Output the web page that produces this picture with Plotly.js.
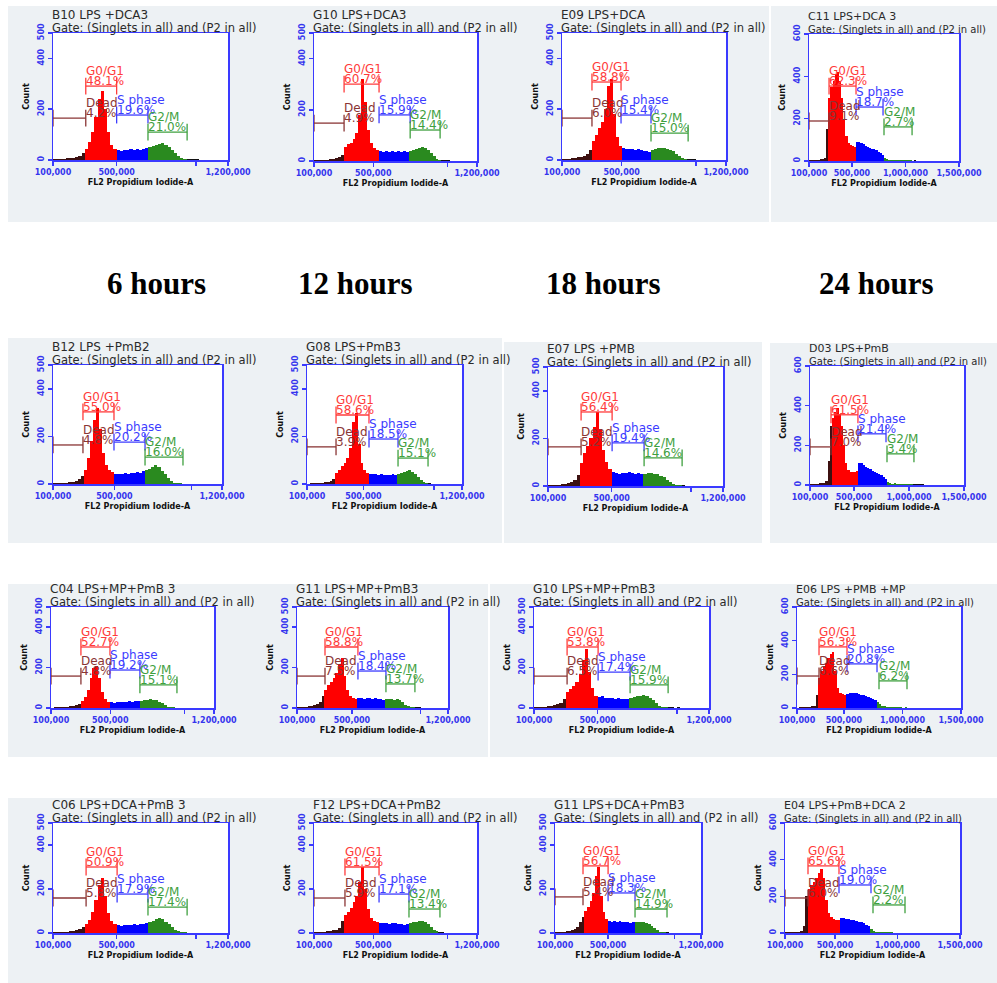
<!DOCTYPE html>
<html><head><meta charset="utf-8">
<script src="https://cdn.plot.ly/plotly-3.0.1.min.js"></script>
<style>body{margin:0;background:#fff}#chart{width:997px;height:983px}</style>
</head><body><div id="chart"></div>
<script>
// ---------------- DATA ----------------
const binStart = 110000;   // centre of first histogram channel
const binStep = 20000;     // channel width
const hourLabels = ['6 hours', '12 hours', '18 hours', '24 hours'];
const panelTitles = ['B10 LPS +DCA3','G10 LPS+DCA3','E09 LPS+DCA','C11 LPS+DCA 3',
  'B12 LPS +PmB2','G08 LPS+PmB3','E07 LPS +PMB','D03 LPS+PmB',
  'C04 LPS+MP+PmB 3','G11 LPS+MP+PmB3','G10 LPS+MP+PmB3','E06 LPS +PMB +MP',
  'C06 LPS+DCA+PmB 3','F12 LPS+DCA+PmB2','G11 LPS+DCA+PmB3','E04 LPS+PmB+DCA 2'];
const gateText = 'Gate: (Singlets in all) and (P2 in all)';
const xTitle = 'FL2 Propidium Iodide-A';
const yTitle = 'Count';
const xMax = [1200000,1200000,1200000,1500000, 1200000,1200000,1200000,1500000,
  1200000,1200000,1200000,1500000, 1200000,1200000,1200000,1500000];
const yMax = [500,500,500,600, 500,500,500,600, 500,500,500,600, 500,500,500,600];
const xTicks12 = [100000, 500000, 1000000, 1200000];
const xTickText12 = ['100,000', '500,000', '', '1,200,000'];
const xTicks15 = [100000, 500000, 1000000, 1500000];
const xTickText15 = ['100,000', '500,000', '1,000,000', '1,500,000'];
const yTicks500 = [0, 200, 400, 500];
const yTicks600 = [0, 200, 400, 600];

// gate boundaries (FL2-A) and gate bar heights (count)
const deadEnd = [306000,303000,301000,287000, 295000,306000,308000,291000, 302000,304000,308000,288000, 308000,309000,311000,284000];
const g1End   = [500000,539000,496000,539000, 497000,540000,503000,536000, 498000,544000,503000,527000, 503000,539000,500000,532000];
const sEnd    = [697000,749000,697000,791000, 699000,746000,704000,791000, 700000,748000,704000,783000, 697000,741000,703000,788000];
const g2Start = [697000,749000,697000,800000, 699000,746000,704000,800000, 700000,748000,704000,800000, 697000,741000,703000,804000];
const g2End   = [943000,951000,946000,1062000, 946000,959000,943000,1045000, 950000,959000,943000,1039000, 943000,950000,944000,1060000];
const deadY = [165,148,165,189, 164,156,164,192, 158,158,158,190, 159,159,164,191];
const g1Y   = [291,300,307,354, 303,290,311,354, 302,302,302,363, 300,300,305,366];
const sY    = [177,180,177,255, 176,189,181,258, 188,183,178,262, 177,177,182,262];
const g2Y   = [110,121,106,161, 113,109,118,157, 114,119,114,161, 118,109,109,153];
const deadPct = ['4.2%','4.9%','6.0%','9.1%','4.8%','3.9%','5.2%','7.0%','4.8%','7.5%','6.5%','6.6%','5.8%','5.9%','5.4%','6.0%'];
const g1Pct = ['48.1%','60.7%','58.8%','62.3%','55.0%','58.6%','56.4%','61.5%','52.7%','58.8%','53.8%','56.3%','50.9%','61.5%','56.7%','65.6%'];
const sPct  = ['19.6%','15.9%','15.4%','18.7%','20.2%','18.5%','19.4%','21.4%','19.2%','18.4%','17.4%','20.8%','17.9%','17.1%','18.3%','19.0%'];
const g2Pct = ['21.0%','14.4%','15.0%','2.7%','16.0%','15.1%','14.6%','3.4%','15.1%','13.7%','15.9%','6.2%','17.4%','13.4%','14.9%','2.2%'];
const gateNames = ['Dead', 'G0/G1', 'S phase', 'G2/M'];

// histogram counts per channel (from 110,000 in steps of 20,000)
const cB10 = [3,4,3,5,6,7,8,10,15,28, 45,70,110,170,240,270,200,110,60,42, 38,36,40,38,42,40,44,40,45,48, 52,55,58,62,66,58,50,40,28,15, 8,5,3,3,2,2,1,1,1,1, 0,1,0,0,0];
const cG10 = [2,3,3,4,5,6,8,10,14,25, 55,65,72,85,110,180,320,230,120,70, 50,42,38,36,40,35,38,36,40,34, 38,36,40,42,48,52,55,50,42,30, 18,8,4,3,2,2,1,1,1,1, 1,0,1,0,0];
const cE09 = [3,4,5,6,8,10,12,16,22,40, 75,100,125,150,200,290,320,180,90,55, 48,45,42,44,40,42,38,36,34,32, 40,44,46,48,46,44,40,34,24,14, 7,4,3,2,2,1,1,1,1,0, 1,0,0,0,0];
const cC11 = [4,5,5,6,7,8,10,15,150,300, 350,380,410,420,380,300,200,120,85,75, 70,68,88,90,85,80,72,68,62,58, 55,50,44,36,28,15,10,7,6,5, 5,4,4,3,4,3,4,3,2,3, 2,2,1,2,1,1,1,0,1,1, 0,0,1,0,0,0,1,0,0,0];
const cB12 = [3,4,4,5,6,8,10,12,20,35, 60,110,180,270,320,230,130,80,60,52, 44,40,42,46,44,48,46,50,48,54, 58,64,72,78,70,56,40,24,12,6, 4,3,2,2,2,1,1,1,1,1, 0,1,0,0,0];
const cG08 = [2,3,3,4,5,6,8,10,14,22, 45,60,75,90,110,150,260,300,170,90, 60,48,44,40,42,38,40,36,38,36, 40,38,44,48,52,56,58,52,42,30, 16,8,4,3,2,2,1,1,1,1, 0,1,0,0,0];
const cE07 = [3,4,4,5,7,9,12,16,25,45, 95,140,170,200,250,310,240,150,100,70, 60,55,52,56,54,58,55,52,56,52, 50,54,56,52,50,44,36,26,16,8, 5,3,3,2,2,2,1,1,1,1, 1,0,1,0,0];
const cD03 = [4,5,6,6,8,9,12,20,120,300, 340,370,390,360,300,200,110,75,68,66, 64,70,110,112,100,92,85,80,72,68, 62,56,48,38,28,14,9,7,8,6, 6,5,6,5,5,4,4,6,5,6, 4,3,2,2,1,1,1,1,0,1, 0,0,0,0,0,0,0,0,0,0];
const cC04 = [2,3,3,4,5,6,8,10,14,22, 35,55,90,150,200,210,150,80,45,32, 28,26,30,28,32,30,34,32,35,34, 36,38,40,44,42,38,32,24,14,7, 4,3,2,2,2,1,1,1,1,0, 1,0,0,0,0];
const cG11m = [3,4,5,6,8,10,14,18,30,60, 90,115,130,150,175,220,250,160,90,60, 50,46,48,52,46,50,48,46,50,44, 46,42,44,46,44,42,44,38,28,16, 8,5,4,3,3,2,2,1,1,1, 1,0,1,0,0];
const cG10m = [3,4,5,6,8,10,14,18,25,45, 80,95,110,130,170,240,290,180,100,60, 55,60,50,48,50,46,48,44,46,44, 50,54,58,60,62,58,50,38,24,12, 6,4,3,3,2,3,2,2,1,2, 1,1,2,1,0];
const cE06 = [3,4,5,6,7,8,10,14,80,180, 220,250,270,300,320,330,220,120,90,85, 80,86,90,92,88,90,84,80,76,72, 66,60,56,48,35,22,14,10,8,6, 5,5,4,4,4,3,4,3,3,2, 3,2,2,1,2,1,1,1,0,1, 0,1,0,0,1,0,0,0,0,0];
const cC06 = [3,3,4,5,6,7,9,12,18,28, 40,60,95,150,220,250,170,90,55,40, 36,34,36,38,36,40,38,42,40,44, 50,56,62,66,62,52,40,26,14,7, 4,3,2,2,2,1,1,1,1,1, 0,1,0,0,0];
const cF12 = [3,4,5,6,7,9,12,15,25,55, 80,95,115,140,170,230,300,200,110,70, 55,50,46,44,46,42,46,44,40,42, 38,40,44,48,52,56,54,50,40,28, 14,7,4,3,2,2,1,1,1,1, 0,1,0,0,0];
const cG11d = [3,4,5,6,8,10,13,18,28,50, 75,100,120,145,180,260,300,170,95,65, 56,52,55,50,54,52,48,50,46,50, 48,50,52,50,46,40,32,22,12,6, 4,3,3,2,2,2,1,1,1,1, 1,0,1,0,0];
const cE04 = [3,4,5,5,6,7,9,40,200,240, 260,280,300,330,350,300,180,110,85,75, 70,72,80,82,78,76,72,70,66,62, 58,52,46,36,24,12,8,6,5,4, 4,3,3,2,2,2,1,1,1,1, 1,0,1,0,0,0,0,0,0,0, 0,0,0,0,0,0,0,0,0,0];
const panelCounts = [cB10,cG10,cE09,cC11, cB12,cG08,cE07,cD03, cC04,cG11m,cG10m,cE06, cC06,cF12,cG11d,cE04];

// ---------------- LAYOUT / STYLE ----------------
const W = 997, H = 983;
// plot frame pixel boxes: left, right, top, bottom
const frames = [
  [53,228,33,160],[314,477,33,161],[562,726,33,160],[809,959,34,161],
  [53,222,365,484],[307,462,365,484],[548,723,367,486],[810,964,366,485],
  [51,214,607,708],[297,448,607,708],[534,709,607,708],[797,961,607,708],
  [53,228,823,933],[314,477,823,933],[555,701,823,933],[785,960,823,933]];
const panelBg = [
  [8,769,6,222],[771,997,6,222],
  [8,502,338,543],[504,762,342,543],[770,997,343,543],
  [8,488,584,757],[490,997,584,757],
  [8,997,798,983]];
const hourX = [156, 355, 603, 876], hourY = 283;
const BG = '#edf1f4', AXIS = '#3a3aff', TICK = '#3535ee';
const FILL = {dead:'#3c1010', g1:'#ff0000', s:'#0000ff', g2:'#2a8a1f', out:'#111111'};
const GATE = ['#8a3535', '#ff3b3b', '#3c3cff', '#3fa03f'];
const FONT = 'DejaVu Sans, Arial, sans-serif';

const px = v => v / W, py = v => 1 - v / H;
const shapes = [], annotations = [], traces = [];
const layout = {
  width: W, height: H, margin: {l:0, r:0, t:0, b:0},
  paper_bgcolor: '#ffffff', plot_bgcolor: '#ffffff',
  showlegend: false, bargap: 0, barmode: 'overlay',
  font: {family: FONT, size: 10, color: '#333'}
};
panelBg.forEach(b => shapes.push({type:'rect', xref:'paper', yref:'paper', layer:'below',
  x0:px(b[0]), x1:px(b[1]), y0:py(b[3]), y1:py(b[2]), fillcolor:BG, line:{width:0}}));
frames.forEach(f => shapes.push({type:'rect', xref:'paper', yref:'paper', layer:'below',
  x0:px(f[0]), x1:px(f[1]), y0:py(f[3]), y1:py(f[2]), fillcolor:'#ffffff', line:{width:0}}));

for (let i = 0; i < 16; i++) {
  const n = i === 0 ? '' : String(i + 1);
  const xa = 'x' + n, ya = 'y' + n;
  const [l, r, t, b] = frames[i];
  const wide = xMax[i] > 1200000;
  const lastCol = (i % 4) === 3;
  layout['xaxis' + n] = {
    domain: [px(l), px(r)], range: [100000, xMax[i]], anchor: ya, automargin: false,
    showgrid: false, zeroline: false, showline: true, mirror: true, linecolor: AXIS, linewidth: 1.5,
    ticks: 'outside', ticklen: 4, tickwidth: 1.5, tickcolor: AXIS,
    tickmode: 'array', tickvals: wide ? xTicks15 : xTicks12, ticktext: wide ? xTickText15 : xTickText12,
    tickfont: {family: FONT, size: 8, color: TICK, weight: 'bold'},
    title: {text: xTitle, font: {family: FONT, size: 8, color: '#111', weight: 'bold'}, standoff: 3}
  };
  layout['yaxis' + n] = {
    domain: [py(b), py(t)], range: [0, yMax[i]], anchor: xa, automargin: false,
    showgrid: false, zeroline: false, showline: true, mirror: true, linecolor: AXIS, linewidth: 1.5,
    ticks: 'outside', ticklen: 4, tickwidth: 1.5, tickcolor: AXIS,
    tickmode: 'array', tickvals: yMax[i] === 600 ? yTicks600 : yTicks500, tickangle: -90,
    tickfont: {family: FONT, size: 8, color: TICK, weight: 'bold'},
    title: {text: yTitle, font: {family: FONT, size: 8, color: '#111', weight: 'bold'}, standoff: 6}
  };

  const counts = panelCounts[i];
  const xs = counts.map((_, k) => binStart + k * binStep);
  const colors = xs.map(x => x < deadEnd[i] ? FILL.dead : x < g1End[i] ? FILL.g1 :
    x < sEnd[i] ? FILL.s : x < g2End[i] ? FILL.g2 : FILL.out);
  traces.push({type:'bar', x: xs, y: counts, width: binStep, xaxis: xa, yaxis: ya,
    marker: {color: colors, line: {width: 0}}, hoverinfo: 'skip'});

  const gates = [
    [100000, deadEnd[i], deadY[i], deadPct[i], deadEnd[i]],
    [deadEnd[i], g1End[i], g1Y[i], g1Pct[i], deadEnd[i]],
    [g1End[i], sEnd[i], sY[i], sPct[i], g1End[i]],
    [g2Start[i], g2End[i], g2Y[i], g2Pct[i], g2Start[i]]];
  gates.forEach((g, k) => {
    traces.push({type:'scatter', mode:'lines+markers', x:[g[0], g[1]], y:[g[2], g[2]],
      xaxis: xa, yaxis: ya, cliponaxis: false, hoverinfo: 'skip',
      line: {color: GATE[k], width: 1.3},
      marker: {symbol: 'line-ns-open', size: 12, color: GATE[k], line: {color: GATE[k], width: 1.3}}});
    annotations.push({xref: xa, yref: ya, x: g[4], y: g[2], text: g[3], showarrow: false,
      xanchor: 'left', yanchor: 'bottom', xshift: -1, yshift: -3, borderpad: 0,
      font: {family: FONT, size: 12, color: GATE[k]}});
    annotations.push({xref: xa, yref: ya, x: g[4], y: g[2], text: gateNames[k], showarrow: false,
      xanchor: 'left', yanchor: 'bottom', xshift: -1, yshift: 7, borderpad: 0,
      font: {family: FONT, size: 12, color: GATE[k]}});
  });

  annotations.push({xref:'paper', yref:'paper', x: px(l), y: py(t - 18), text: panelTitles[i],
    showarrow: false, xanchor: 'left', yanchor: 'middle', xshift: -2, borderpad: 0,
    font: {family: FONT, size: lastCol ? 11 : 12, color: '#2a2a2a'}});
  annotations.push({xref:'paper', yref:'paper', x: px(l), y: py(t - 5), text: gateText,
    showarrow: false, xanchor: 'left', yanchor: 'middle', xshift: -2, borderpad: 0,
    font: {family: FONT, size: lastCol ? 10 : 11.5, color: '#2a2a2a'}});
}
hourLabels.forEach((h, k) => annotations.push({xref:'paper', yref:'paper', x: px(hourX[k]), y: py(hourY),
  text: h, showarrow: false, xanchor: 'center', yanchor: 'middle',
  font: {family: 'Liberation Serif, Times New Roman, serif', size: 31, color: '#000', weight: 'bold'}}));

layout.shapes = shapes;
layout.annotations = annotations;
Plotly.newPlot('chart', traces, layout, {staticPlot: true, displayModeBar: false});
</script>
</body></html>
